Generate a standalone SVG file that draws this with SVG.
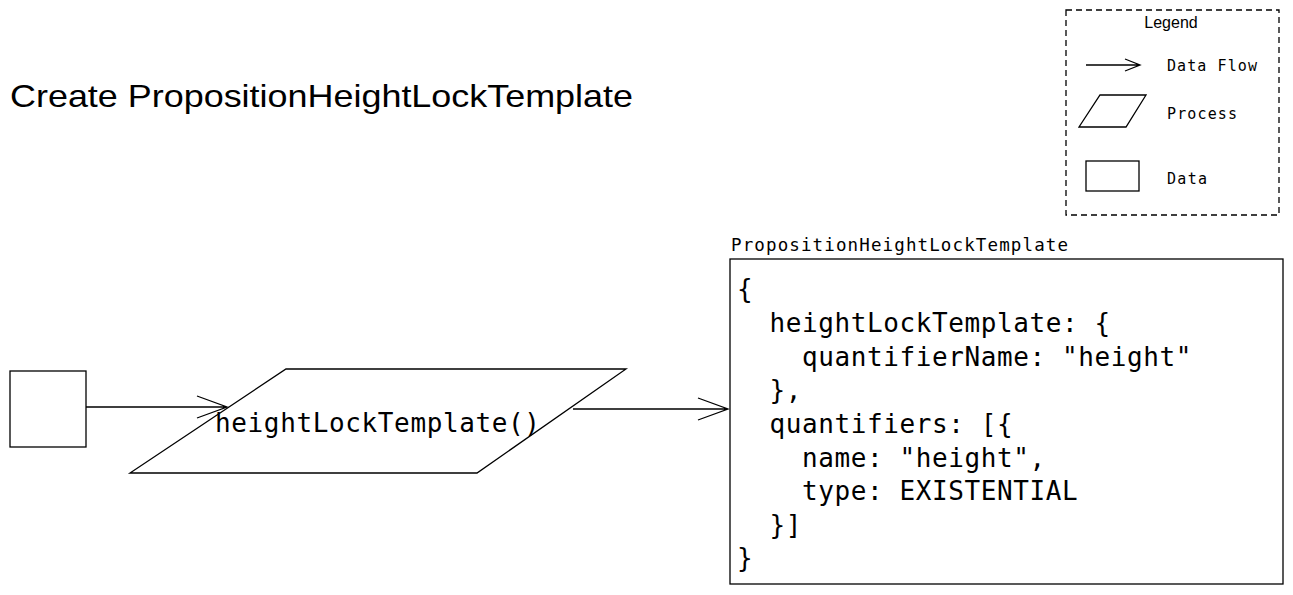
<svg xmlns="http://www.w3.org/2000/svg" width="1293" height="595" viewBox="0 0 1293 595">
<style>
.s{fill:#fff;stroke:#000;stroke-width:1.3}
.ln{fill:none;stroke:#000;stroke-width:1.3}
.mono{font-family:"DejaVu Sans Mono",monospace;fill:#000}
.code{font-size:26px;letter-spacing:0.6px}
.leg{font-size:15px}
</style>
<rect width="1293" height="595" fill="#fff"/>
<text x="10" y="107" font-family="Liberation Sans, Arial, sans-serif" font-size="32" textLength="623" lengthAdjust="spacingAndGlyphs">Create PropositionHeightLockTemplate</text>
<g id="legend">
<rect x="1066" y="10" width="213" height="205" fill="none" stroke="#000" stroke-width="1.3" stroke-dasharray="6,4"/>
<text x="1171" y="28" font-family="Liberation Sans, Arial, sans-serif" font-size="16" text-anchor="middle">Legend</text>
<path class="ln" d="M1086 65H1140M1125 59L1140 65L1125 71"/>
<text class="mono leg" x="1167" y="71" textLength="90">Data Flow</text>
<path class="s" d="M1100 95H1146L1126 127H1079Z"/>
<text class="mono leg" x="1167" y="119" textLength="70">Process</text>
<rect class="s" x="1086" y="161" width="53" height="30"/>
<text class="mono leg" x="1167" y="184" textLength="40">Data</text>
</g>
<g id="input">
<rect class="s" x="10" y="371" width="76" height="76"/>
</g>
<g id="process">
<path class="s" d="M286 369H626L477 473H130Z"/>
<text class="mono" x="215" y="432" font-size="26" textLength="325">heightLockTemplate()</text>
</g>
<g id="output">
<text class="mono" x="731" y="251" font-size="17.5" textLength="337">PropositionHeightLockTemplate</text>
<rect class="s" x="730" y="259" width="553" height="325"/>
<text class="mono code" xml:space="preserve"><tspan x="737" y="298">{</tspan><tspan x="737" y="332">  heightLockTemplate: {</tspan><tspan x="737" y="366">    quantifierName: "height"</tspan><tspan x="737" y="399">  },</tspan><tspan x="737" y="433">  quantifiers: [{</tspan><tspan x="737" y="467">    name: "height",</tspan><tspan x="737" y="500">    type: EXISTENTIAL</tspan><tspan x="737" y="534">  }]</tspan><tspan x="737" y="567">}</tspan></text>
</g>
<g id="connectors">
<path class="ln" d="M86 407H227M197 396L227 407L197 418"/>
<path class="ln" d="M573 409H728M698 398L728 409L698 420"/>
</g>
</svg>
